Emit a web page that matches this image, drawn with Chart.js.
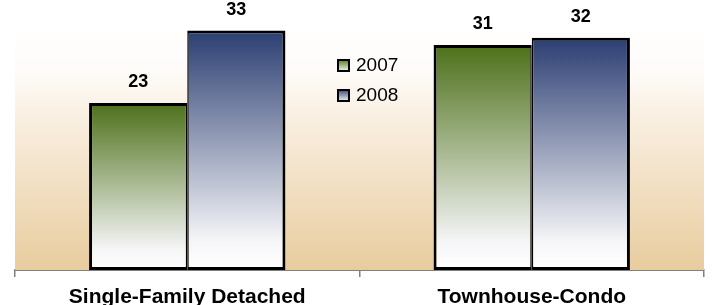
<!DOCTYPE html>
<html>
<head>
<meta charset="utf-8">
<script src="https://cdn.jsdelivr.net/npm/chart.js@4.4.1/dist/chart.umd.min.js"></script>
<style>
  body { margin: 0; background: #fff; }
  #wrap { width: 712px; height: 305px; position: relative; }
</style>
</head>
<body>
<div id="wrap"><canvas id="chart"></canvas></div>
<script>
const categories = ["Single-Family Detached", "Townhouse-Condo"];
const seriesNames = ["2007", "2008"];
const values2007 = [23, 31];
const values2008 = [33, 32];
const topColors = ["#4d7019", "#2b3e72"];

const ctx = document.getElementById("chart").getContext("2d");

// vertical gradient per bar, dark at the top, white at the baseline
function barFill(context) {
  const chart = context.chart;
  const yScale = chart.scales.y;
  const color = topColors[context.datasetIndex];
  if (!yScale || !chart.chartArea) return color;
  const v = context.raw;
  const top = yScale.getPixelForValue(v);
  const bottom = yScale.getPixelForValue(0);
  const g = chart.ctx.createLinearGradient(0, top, 0, bottom);
  g.addColorStop(0, color);
  g.addColorStop(0.88, "#f6f6f8");
  g.addColorStop(1, "#ffffff");
  return g;
}

// tan background of the plot area
const backgroundPlugin = {
  id: "plotBackground",
  beforeDatasetsDraw(chart) {
    const { ctx, chartArea } = chart;
    const g = ctx.createLinearGradient(0, chartArea.top, 0, chartArea.bottom);
    g.addColorStop(0, "#ffffff");
    g.addColorStop(0.2, "#fefcfa");
    g.addColorStop(0.45, "#f8ecdb");
    g.addColorStop(1, "#e8cc9e");
    ctx.save();
    ctx.fillStyle = g;
    ctx.fillRect(chartArea.left, chartArea.top + 14, chartArea.right - chartArea.left, chartArea.bottom - chartArea.top - 14);
    ctx.restore();
  }
};

// value labels above the bars
const valueLabels = {
  id: "valueLabels",
  afterDatasetsDraw(chart) {
    const { ctx } = chart;
    ctx.save();
    ctx.font = "bold 18px 'Liberation Sans', Arial, sans-serif";
    ctx.fillStyle = "#000";
    ctx.textAlign = "center";
    ctx.textBaseline = "alphabetic";
    chart.data.datasets.forEach((ds, i) => {
      chart.getDatasetMeta(i).data.forEach((bar, j) => {
        ctx.fillText(ds.data[j], bar.x, bar.y - 16);
      });
    });
    ctx.restore();
  }
};

// legend sitting between the two groups
const innerLegend = {
  id: "innerLegend",
  afterDraw(chart) {
    const { ctx } = chart;
    ctx.save();
    chart.data.datasets.forEach((ds, i) => {
      const x = 337, y = 59 + i * 30, s = 13;
      const g = ctx.createLinearGradient(0, y, 0, y + s);
      g.addColorStop(0, topColors[i]);
      g.addColorStop(1, "#ffffff");
      ctx.fillStyle = g;
      ctx.fillRect(x, y, s, s);
      ctx.strokeStyle = "#000";
      ctx.lineWidth = 2;
      ctx.strokeRect(x + 1, y + 1, s - 2, s - 2);
      ctx.fillStyle = "#000";
      ctx.font = "19px 'Liberation Sans', Arial, sans-serif";
      ctx.textBaseline = "middle";
      ctx.textAlign = "left";
      ctx.fillText(ds.label, 356, y + 7);
    });
    ctx.restore();
  }
};

new Chart(ctx, {
  type: "bar",
  data: {
    labels: categories,
    datasets: [
      {
        label: seriesNames[0],
        data: values2007,
        backgroundColor: barFill,
        borderColor: "#000",
        borderWidth: { top: 3, left: 3, right: 1.5, bottom: 3 },
        borderSkipped: false,
        categoryPercentage: 0.57,
        barPercentage: 1.0,
      },
      {
        label: seriesNames[1],
        data: values2008,
        backgroundColor: barFill,
        borderColor: "#000",
        borderWidth: { top: 3, left: 1.5, right: 3, bottom: 3 },
        borderSkipped: false,
        categoryPercentage: 0.57,
        barPercentage: 1.0,
      },
    ],
  },
  options: {
    responsive: true,
    maintainAspectRatio: false,
    animation: false,
    layout: { padding: { left: 15, right: 8, top: 16, bottom: 0 } },
    plugins: {
      legend: { display: false },
      tooltip: { enabled: false },
    },
    scales: {
      y: {
        display: false,
        min: 0,
        max: 35,
      },
      x: {
        afterFit: (s) => { s.height = 35; },
        grid: {
          display: true,
          drawOnChartArea: false,
          drawTicks: true,
          tickLength: 7,
          color: "#808080",
          lineWidth: 1.5,
          offset: true,
        },
        border: { display: true, color: "#808080", width: 2 },
        ticks: {
          color: "#000",
          padding: 8,
          font: { family: "'Liberation Sans', Arial, sans-serif", size: 21, weight: "bold" },
        },
      },
    },
  },
  plugins: [backgroundPlugin, valueLabels, innerLegend],
});
</script>
</body>
</html>
